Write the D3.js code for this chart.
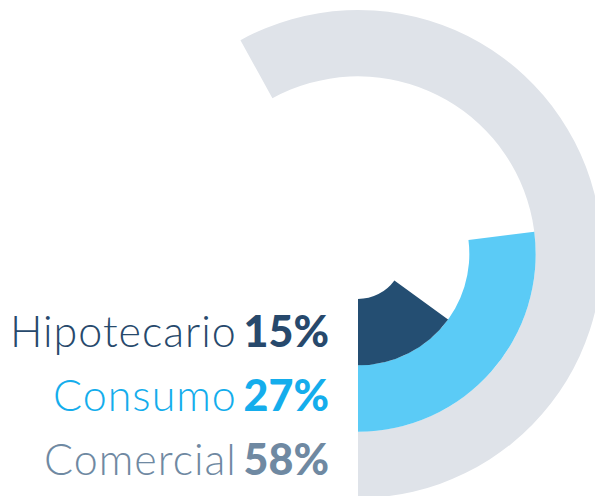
<!DOCTYPE html>
<html>
<head>
<meta charset="utf-8">
<script src="https://cdn.jsdelivr.net/npm/d3@7"></script>
<style>
  body { margin: 0; background: #fff; }
  svg { display: block; }
  .label { font-family: Lato, "Open Sans", sans-serif; font-size: 43px; }
  .label .name { font-weight: 300; letter-spacing: 1px; }
  .label .pct { font-weight: 900; letter-spacing: 0; }
</style>
</head>
<body>
<div id="chart"></div>
<script>
// categories, inner ring to outer ring
var categories = ["Hipotecario", "Consumo", "Comercial"];
var shares = [15, 27, 58];
var ringColors = ["#244e72", "#5bcbf6", "#dfe3e9"];
var textColors = ["#27496c", "#14adec", "#6f89a2"];

RadialShares();

function RadialShares() {

var width = 595, height = 496;
var cx = 358, cy = 254;

var svg = d3.select("#chart").append("svg")
    .attr("width", width)
    .attr("height", height);

// percent of a full turn, drawn counter-clockwise from 6 o'clock
var angle = d3.scaleLinear().domain([0, 100]).range([0, 2 * Math.PI]);

var ring = d3.scaleBand()
    .domain(categories)
    .range([45, 244])
    .paddingInner(0);

var data = categories.map(function(c, i) {
  return {name: c, value: shares[i], fill: ringColors[i], text: textColors[i]};
});

var arc = d3.arc()
    .innerRadius(function(d) { return ring(d.name); })
    .outerRadius(function(d) { return ring(d.name) + ring.bandwidth(); })
    .startAngle(Math.PI)
    .endAngle(function(d) { return Math.PI - angle(d.value); });

var g = svg.append("g")
    .attr("transform", "translate(" + cx + "," + cy + ")");

g.selectAll("path")
    .data(data.slice().reverse())
  .enter().append("path")
    .attr("d", arc)
    .attr("fill", function(d) { return d.fill; });

// legend, right aligned against the start of the rings
var rowY = d3.scalePoint().domain(categories).range([347, 475]);

var label = svg.selectAll("text.label")
    .data(data)
  .enter().append("text")
    .attr("class", "label")
    .attr("x", 329)
    .attr("y", function(d) { return rowY(d.name); })
    .attr("text-anchor", "end")
    .attr("fill", function(d) { return d.text; });

label.append("tspan")
    .attr("class", "name")
    .text(function(d) { return d.name + " "; });

label.append("tspan")
    .attr("class", "pct")
    .attr("dx", -6)
    .text(function(d) { return d.value + "%"; });

}
</script>
</body>
</html>
